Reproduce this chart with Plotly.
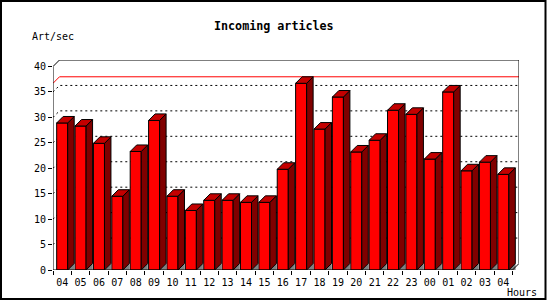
import plotly.graph_objects as go

# ---- data ----
hours = ["04", "05", "06", "07", "08", "09", "10", "11", "12", "13", "14", "15", "16",
         "17", "18", "19", "20", "21", "22", "23", "00", "01", "02", "03", "04"]
art_per_sec = [28.9, 28.3, 24.9, 14.5, 23.3, 29.4, 14.5, 11.7, 13.7, 13.7, 13.3, 13.3, 19.8,
               36.7, 27.7, 34.0, 23.2, 25.5, 31.4, 30.6, 21.8, 35.0, 19.5, 21.2, 18.8]
y_ticks = [0, 5, 10, 15, 20, 25, 30, 35, 40]
grid_vals = [5, 10, 15, 20, 25, 30, 35]

# ---- style / geometry ----
W, H = 550, 300
ML, MR, MT, MB = 53, 31, 60, 30
DX = 0.353      # 3D depth in category units
DY = 1.28       # 3D depth in value units
HALF = 0.3      # half bar width
FONT = "DejaVu Sans Mono"
YMAX = y_ticks[-1]

idx = list(range(len(hours)))
x_lo, x_hi = -0.5, len(hours) - 0.5

fig = go.Figure()

# front faces
fig.add_trace(go.Bar(x=idx, y=art_per_sec, width=2 * HALF,
                     marker=dict(color="#ff0000", line=dict(color="black", width=1)),
                     hoverinfo="skip"))

# side faces, top faces, floor triangles
sx, sy, tx, ty, fx, fy = [], [], [], [], [], []
for i, v in zip(idx, art_per_sec):
    r = i + HALF
    l = i - HALF
    sx += [r, r, r + DX, r + DX, r, None]
    sy += [0, v, v + DY, DY, 0, None]
    tx += [l, l + DX, r + DX, r, l, None]
    ty += [v, v + DY, v + DY, v, v, None]
    fx += [r, r + DX, r + DX, r, None]
    fy += [0, 0, DY, 0, None]

fig.add_trace(go.Scatter(x=fx, y=fy, mode="lines", fill="toself", fillcolor="#808080",
                         line=dict(color="#808080", width=0.5), hoverinfo="skip", cliponaxis=False))
fig.add_trace(go.Scatter(x=sx, y=sy, mode="lines", fill="toself", fillcolor="#800000",
                         line=dict(color="black", width=1), hoverinfo="skip", cliponaxis=False))
fig.add_trace(go.Scatter(x=tx, y=ty, mode="lines", fill="toself", fillcolor="#c40000",
                         line=dict(color="black", width=1), hoverinfo="skip", cliponaxis=False))

# plot frame (front axis + back wall outline)
fig.add_trace(go.Scatter(
    x=[x_lo, x_lo, x_lo + DX, x_hi + DX, x_hi + DX, x_hi, x_lo],
    y=[0, YMAX, YMAX + DY, YMAX + DY, DY, 0, 0],
    mode="lines", line=dict(color="black", width=1), hoverinfo="skip", cliponaxis=False))

shapes = []
# dotted grid lines on back wall
for g in grid_vals:
    shapes.append(dict(type="path", xref="x", yref="y", layer="below",
                       path=f"M {x_lo},{g} L {x_lo + DX},{g + DY} L {x_hi + DX},{g + DY}",
                       line=dict(color="black", width=1, dash="2px,3px")))
# max line
vmax = max(art_per_sec)
shapes.append(dict(type="path", xref="x", yref="y", layer="below",
                   path=f"M {x_lo},{vmax} L {x_lo + DX},{vmax + DY} L {x_hi + DX},{vmax + DY}",
                   line=dict(color="#ff0000", width=1)))

pw = W - ML - MR
ph = H - MT - MB


def px(xp):
    return (xp - ML) / pw


def py(yp):
    return (H - MB - yp) / ph


# outer border
shapes.append(dict(type="rect", xref="paper", yref="paper",
                   x0=px(1), x1=px(545.5), y0=py(1), y1=py(299),
                   line=dict(color="black", width=2), layer="above"))

annotations = [
    dict(text="<b>Incoming articles</b>", x=px(273.5), y=py(26.5), xref="paper", yref="paper",
         xanchor="center", yanchor="middle", showarrow=False,
         font=dict(family=FONT, size=11.7, color="black")),
    dict(text="Art/sec", x=px(30), y=py(36.5), xref="paper", yref="paper",
         xanchor="left", yanchor="middle", showarrow=False,
         font=dict(family=FONT, size=10, color="black")),
    dict(text="Hours", x=px(505), y=py(292), xref="paper", yref="paper",
         xanchor="left", yanchor="middle", showarrow=False,
         font=dict(family=FONT, size=10, color="black")),
]

fig.update_layout(
    width=W, height=H,
    margin=dict(l=ML, r=MR, t=MT, b=MB, pad=0),
    paper_bgcolor="white", plot_bgcolor="white",
    showlegend=False,
    shapes=shapes, annotations=annotations,
    font=dict(family=FONT, size=10, color="black"),
    xaxis=dict(range=[x_lo, x_hi + DX], tickmode="array", tickvals=idx, ticktext=hours,
               ticks="outside", ticklen=3, tickcolor="rgba(0,0,0,0)",
               showgrid=False, zeroline=False, showline=False,
               minor=dict(tickmode="array", tickvals=[i - 0.5 for i in range(len(hours) + 1)],
                          ticks="outside", ticklen=4, tickcolor="black", tickwidth=1,
                          showgrid=False),
               tickfont=dict(family=FONT, size=10, color="black"), fixedrange=True),
    yaxis=dict(range=[0, YMAX + DY], tickmode="array", tickvals=y_ticks,
               ticks="outside", ticklen=4, tickcolor="black", tickwidth=1,
               showgrid=False, zeroline=False, showline=False,
               tickfont=dict(family=FONT, size=10, color="black"), fixedrange=True),
)

fig.write_html("out.html")
